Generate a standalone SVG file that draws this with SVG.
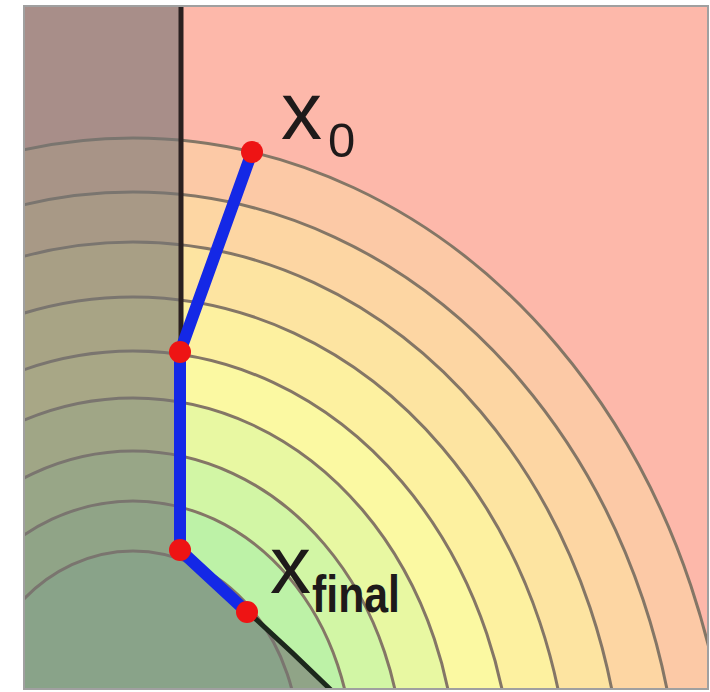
<svg xmlns="http://www.w3.org/2000/svg" xmlns:xlink="http://www.w3.org/1999/xlink" width="710" height="692" viewBox="0 0 710 692">
<style>
.iso{fill:none;stroke:#847666;stroke-width:3}
.edge{fill:none;stroke:#1428e6;stroke-width:12;stroke-linecap:round;stroke-linejoin:round}
.dot{fill:#ee1414}
.lbl{font-family:"Liberation Sans",Arial,sans-serif;fill:#1e1a1a}
</style>
<defs>
<clipPath id="frame"><rect x="24" y="6" width="684" height="683"/></clipPath>
<ellipse id="c1" cx="133" cy="846.5" rx="600" ry="708.5"/>
<ellipse id="c2" cx="133" cy="837" rx="548.5" ry="645"/>
<ellipse id="c3" cx="133" cy="820.5" rx="491.5" ry="578.5"/>
<ellipse id="c4" cx="133" cy="811.5" rx="437.5" ry="514.5"/>
<ellipse id="c5" cx="133" cy="798.5" rx="380.5" ry="447.5"/>
<ellipse id="c6" cx="133" cy="779" rx="324" ry="381"/>
<ellipse id="c7" cx="133" cy="769" rx="270.5" ry="318"/>
<ellipse id="c8" cx="133" cy="760" rx="220" ry="259"/>
<ellipse id="c9" cx="133" cy="746" rx="166" ry="195"/>
</defs>
<rect x="0" y="0" width="710" height="692" fill="#ffffff"/>
<g id="plot" clip-path="url(#frame)">
<rect x="24" y="6" width="684" height="683" fill="#fdb8aa"/>
<g id="bands">
<use xlink:href="#c1" fill="#fcc9a6"/>
<use xlink:href="#c2" fill="#fdd6a3"/>
<use xlink:href="#c3" fill="#fde4a1"/>
<use xlink:href="#c4" fill="#fdf1a0"/>
<use xlink:href="#c5" fill="#fbf9a2"/>
<use xlink:href="#c6" fill="#e8f8a2"/>
<use xlink:href="#c7" fill="#d2f6a5"/>
<use xlink:href="#c8" fill="#bdf2a7"/>
<use xlink:href="#c9" fill="#aaeeaa"/>
</g>
<g id="isolines">
<use xlink:href="#c1" class="iso"/>
<use xlink:href="#c2" class="iso"/>
<use xlink:href="#c3" class="iso"/>
<use xlink:href="#c4" class="iso"/>
<use xlink:href="#c5" class="iso"/>
<use xlink:href="#c6" class="iso"/>
<use xlink:href="#c7" class="iso"/>
<use xlink:href="#c8" class="iso"/>
<use xlink:href="#c9" class="iso"/>
</g>
<path id="infeasible" d="M24,6 H181 V550 L248,612 Q290,650 332,690 H24 Z" fill="#747474" fill-opacity="0.62"/>
<g id="constraint" fill="none" stroke-width="5">
<path d="M181,6 V552" stroke="#2a2020"/>
<path d="M248,612 Q290,650 331,690" stroke="#1c281c"/>
</g>
</g>
<rect x="24" y="6" width="684" height="683" fill="none" stroke="#a0a0a0" stroke-width="2"/>
<g id="connectors">
<path class="edge" d="M252,152 L180,352"/>
<path class="edge" d="M180,352 L180,550"/>
<path class="edge" d="M180,550 L247,612"/>
</g>
<g id="x0">
<circle class="dot" cx="252" cy="152" r="11"/>
<text class="lbl" x="281" y="139" font-size="82">x</text>
<text class="lbl" x="328" y="157" font-size="49">0</text>
</g>
<g id="x1"><circle class="dot" cx="180" cy="352" r="11"/></g>
<g id="x2"><circle class="dot" cx="180" cy="550" r="11"/></g>
<g id="xfinal">
<circle class="dot" cx="247" cy="612" r="11"/>
<text class="lbl" x="270" y="593" font-size="82">x</text>
<text class="lbl" x="312" y="612" font-size="52" font-weight="bold" textLength="88" lengthAdjust="spacingAndGlyphs">final</text>
</g>
</svg>
